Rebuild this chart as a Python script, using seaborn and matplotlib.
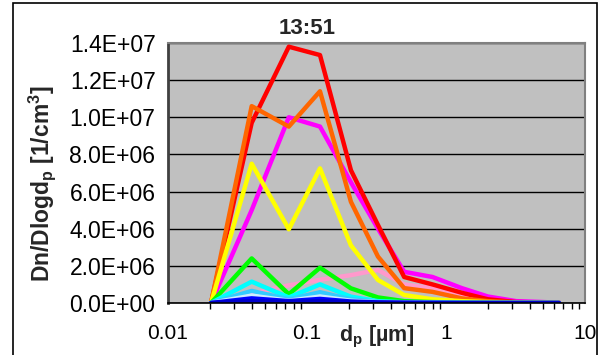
import numpy as np
import pandas as pd
import matplotlib
matplotlib.use("Agg")
import matplotlib.pyplot as plt
from matplotlib.ticker import FuncFormatter, FixedLocator, LogLocator, NullFormatter
from matplotlib.patches import Rectangle
import seaborn as sns

# particle diameter midpoints [um]
dp = [0.0204, 0.040, 0.074, 0.124, 0.207, 0.324, 0.50, 0.80, 1.30, 2.0, 3.2, 6.5]

# number size distributions dN/dlogDp [1/cm3], one per size-distribution record
s_pink    = [0, 0.50e6, 0.95e6, 1.25e6, 1.50e6, 1.78e6, 1.00e6, 0.80e6, 0.35e6, 0.12e6, 0.03e6, 0.01e6]
s_magenta = [0, 5.00e6, 10.0e6, 9.50e6, 6.50e6, 4.00e6, 1.68e6, 1.40e6, 0.80e6, 0.35e6, 0.10e6, 0.02e6]
s_red     = [0, 9.70e6, 13.8e6, 13.35e6, 7.15e6, 4.20e6, 1.40e6, 1.00e6, 0.55e6, 0.20e6, 0.05e6, 0.02e6]
s_orange  = [0, 10.6e6, 9.50e6, 11.4e6, 5.45e6, 2.50e6, 0.80e6, 0.60e6, 0.25e6, 0.10e6, 0.03e6, 0.01e6]
s_yellow  = [0, 7.50e6, 3.97e6, 7.25e6, 3.10e6, 1.24e6, 0.43e6, 0.20e6, 0.10e6, 0.05e6, 0.02e6, 0.01e6]
s_green   = [0, 2.40e6, 0.47e6, 1.90e6, 0.79e6, 0.30e6, 0.10e6, 0.05e6, 0.02e6, 0.01e6, 0, 0]
s_cyan    = [0, 1.15e6, 0.30e6, 1.00e6, 0.34e6, 0.10e6, 0.04e6, 0.02e6, 0.01e6, 0, 0, 0]
s_sky     = [0, 0.65e6, 0.20e6, 0.58e6, 0.20e6, 0.06e6, 0.03e6, 0.01e6, 0, 0, 0, 0]
s_white   = [0, 0.40e6, 0.12e6, 0.35e6, 0.12e6, 0.04e6, 0.02e6, 0.01e6, 0, 0, 0, 0]
s_blue    = [0, 0.25e6, 0.10e6, 0.22e6, 0.08e6, 0.03e6, 0.01e6, 0.01e6, 0, 0, 0, 0]
s_navy    = [0, 0.10e6, 0.05e6, 0.10e6, 0.04e6, 0.02e6, 0.01e6, 0, 0, 0, 0, 0]

series = {
    "pink": s_pink, "magenta": s_magenta, "red": s_red, "orange": s_orange,
    "yellow": s_yellow, "green": s_green, "cyan": s_cyan, "sky": s_sky,
    "white": s_white, "blue": s_blue, "navy": s_navy,
}
colors = {
    "pink": "#FF99CC", "magenta": "#FF00FF", "red": "#FF0000", "orange": "#FF6600",
    "yellow": "#FFFF00", "green": "#00FF00", "cyan": "#00FFFF", "sky": "#33CCFF",
    "white": "#CCECFF", "blue": "#0000FF", "navy": "#0000CC",
}

df = pd.concat(
    [pd.DataFrame({"dp": dp, "n": vals, "rec": name}) for name, vals in series.items()],
    ignore_index=True,
)

sns.set_theme(style="white")
plt.rcParams["font.family"] = ["Liberation Sans", "DejaVu Sans"]
plt.rcParams["mathtext.fontset"] = "custom"
plt.rcParams["mathtext.rm"] = "Liberation Sans"
plt.rcParams["mathtext.bf"] = "Liberation Sans:bold"

fig = plt.figure(figsize=(6.04, 3.55), dpi=100)
fig.patch.set_facecolor("white")
ax = fig.add_axes([168 / 604, 1 - 303 / 355, (585 - 168) / 604, (303 - 43) / 355])
ax.set_facecolor("#C0C0C0")

sns.lineplot(data=df, x="dp", y="n", hue="rec", hue_order=list(series.keys()),
             palette=colors, estimator=None, sort=False, linewidth=3.2,
             legend=False, ax=ax)

ax.set_xscale("log")
ax.set_xlim(0.01, 10)
ax.set_ylim(0, 1.4e7)
ax.set_yticks(np.arange(0, 1.41e7, 2e6))
ax.yaxis.set_major_formatter(FuncFormatter(lambda v, p: f"{v:.1E}"))
ax.xaxis.set_major_locator(FixedLocator([0.01, 0.1, 1, 10]))
ax.xaxis.set_major_formatter(FuncFormatter(lambda v, p: f"{v:g}"))
ax.xaxis.set_minor_locator(LogLocator(base=10, subs=np.arange(2, 10)))
ax.xaxis.set_minor_formatter(NullFormatter())

ax.grid(axis="y", color="black", linewidth=1.0)
ax.grid(axis="x", visible=False)
ax.set_axisbelow(True)

ax.tick_params(axis="both", which="major", direction="out", length=5, width=1,
               color="black", labelcolor="black")
ax.tick_params(axis="x", which="major", pad=10, labelsize=15)
ax.tick_params(axis="y", which="major", pad=4, labelsize=16.5)
ax.tick_params(axis="x", which="minor", direction="out", length=4, width=1,
               color="black", bottom=True)

for side in ["top", "right"]:
    ax.spines[side].set_color("#808080")
    ax.spines[side].set_linewidth(1.5)
ax.spines["left"].set_color("#404040")
ax.spines["left"].set_linewidth(2)
ax.spines["bottom"].set_color("black")
ax.spines["bottom"].set_linewidth(1.2)

ax.set_xlabel("")
ax.set_ylabel(r"Dn/Dlogd$_\mathbf{p}$ [1/cm$^\mathbf{3}$]", fontsize=16.5,
              fontweight="bold")
ax.yaxis.set_label_coords((58 - 168) / 417, 0.458)
fig.text(377 / 604, 1 - 337 / 355, r"d$_\mathbf{p}$ [µm]", fontsize=15.5,
         fontweight="bold", ha="center", va="center")
fig.text(307 / 604, 1 - 28 / 355, "13:51", fontsize=16, fontweight="bold",
         ha="center", va="center")

fig.patches.append(Rectangle((13 / 604, 1 - 360 / 355), (597 - 13) / 604, (360 - 3) / 355,
                             transform=fig.transFigure, fill=False,
                             edgecolor="black", linewidth=1.2))

fig.savefig("out.png", dpi=100)
